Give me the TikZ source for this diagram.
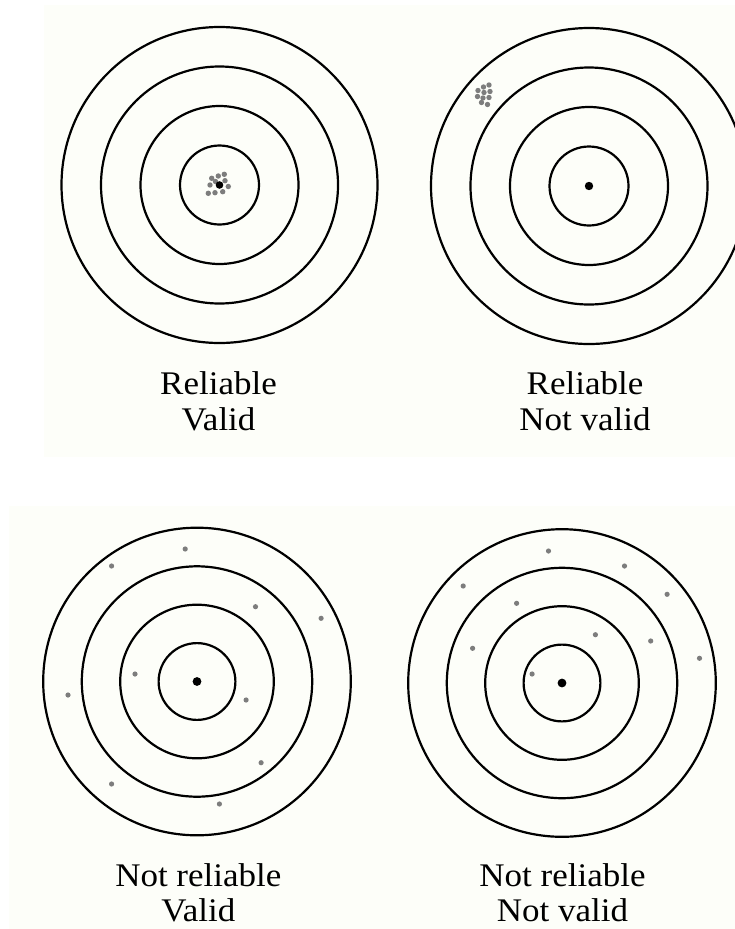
\documentclass[tikz,border=0pt]{standalone}
\usepackage{fontspec}
\setmainfont{Liberation Serif}
\definecolor{panelbg}{RGB}{253,254,249}
\definecolor{shotgray}{RGB}{125,125,125}
\newcommand{\widetext}[1]{\scalebox{1.06}[1]{#1}}
\begin{document}
\begin{tikzpicture}[x=1pt,y=-1pt,
  ring/.style={draw=black, line width=2.2pt},
  shotdot/.style={fill=shotgray},
  bullseye/.style={fill=black},
  lbl/.style={anchor=base, inner sep=0pt, font=\fontsize{33}{36}\selectfont}]
\useasboundingbox (0,0) rectangle (735,929);
\clip (0,0) rectangle (735,929);
% panels
\fill[panelbg] (44,5) rectangle (735,457);
\fill[panelbg] (9,506) rectangle (735,929);
% top targets
\foreach \r in {39.5,79,118.5,158} {
  \draw[ring] (219.5,185) circle[radius=\r];
  \draw[ring] (589,186) circle[radius=\r];
}
% bottom targets
\foreach \r in {38.4,76.8,115.2,153.8} {
  \draw[ring] (197,681.5) circle[radius=\r];
  \draw[ring] (562,683) circle[radius=\r];
}
% top-left cluster
\foreach \p in {(211.7,178.3),(218.3,176),(224.3,174.3),(225,180.7),(210,185),(228.3,186.5),(208.3,193.3),(215,192.7),(222.7,191.7),(215.5,181.5)}
  \fill[shotdot] \p circle[radius=2.7];
\fill[bullseye] (219.5,185) circle[radius=3.8];
% top-right
\fill[bullseye] (589,186) circle[radius=4.2];
\foreach \p in {(478,90.5),(483.5,87),(489,85),(484,92.5),(490,91.5),(477.5,96.5),(483,98),(489,97.5),(481.5,102.5),(487.5,104.5)}
  \fill[shotdot] \p circle[radius=2.7];
% bottom-left
\fill[bullseye] (197,681.5) circle[radius=4.4];
\foreach \p in {(185.2,549),(111.6,566),(255.5,606.7),(321.1,618.3),(135,674),(68,695),(246.1,700),(261.1,762.7),(111.6,784),(219.4,804)}
  \fill[shotdot] \p circle[radius=2.6];
% bottom-right
\fill[bullseye] (562,683) circle[radius=4.4];
\foreach \p in {(548.5,551),(624.5,566),(463.2,586),(667.1,594.3),(516.6,603.3),(595.4,634.7),(650.7,641),(472.6,648.3),(699.5,658.3),(532.1,674)}
  \fill[shotdot] \p circle[radius=2.6];
% labels
\node[lbl] (l1a) at (218.5,394) {\widetext{Reliable}};
\node[lbl] (l1b) at (218.5,430) {\widetext{Valid}};
\node[lbl] (l2a) at (585,394) {\widetext{Reliable}};
\node[lbl] (l2b) at (585,430) {\widetext{Not valid}};
\node[lbl] (l3a) at (198.3,886.5) {\widetext{Not reliable}};
\node[lbl] (l3b) at (198.3,921) {\widetext{Valid}};
\node[lbl] (l4a) at (562.5,886.5) {\widetext{Not reliable}};
\node[lbl] (l4b) at (562.5,921) {\widetext{Not valid}};
\end{tikzpicture}
\end{document}
